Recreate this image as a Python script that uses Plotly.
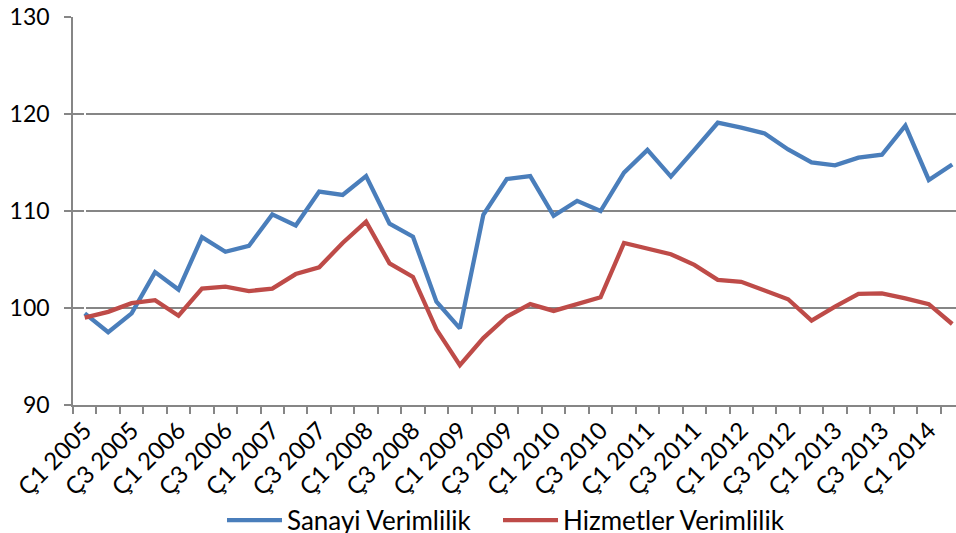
import plotly.graph_objects as go

quarters = []
for yr in range(2005, 2015):
    for q in range(1, 5):
        quarters.append(f"Ç{q} {yr}")
quarters = quarters[:38]  # Ç1 2005 .. Ç2 2014

sanayi = [99.45, 97.5, 99.45, 103.7, 101.9, 107.3, 105.8, 106.4, 109.65, 108.5,
          112.0, 111.65, 113.6, 108.7, 107.35, 100.65, 97.9, 109.6, 113.3, 113.6,
          109.5, 111.05, 110.0, 113.95, 116.3, 113.55, 116.3, 119.1, 118.6, 118.0,
          116.35, 115.0, 114.7, 115.5, 115.8, 118.8, 113.2, 114.8]

hizmetler = [99.0, 99.6, 100.5, 100.8, 99.2, 102.0, 102.2, 101.75, 102.0, 103.5,
             104.2, 106.7, 108.9, 104.6, 103.2, 97.8, 94.1, 96.9, 99.1, 100.4,
             99.7, 100.4, 101.1, 106.7, 106.1, 105.55, 104.45, 102.9, 102.7, 101.85,
             100.9, 98.7, 100.15, 101.45, 101.5, 101.0, 100.4, 98.35]

x = list(range(len(quarters)))
label_idx = [i for i in x if i % 2 == 0]

font_name = "Lato, Carlito, Calibri, sans-serif"

fig = go.Figure()
fig.add_trace(go.Scatter(x=x, y=sanayi, mode="lines", name="Sanayi Verimlilik",
                         line=dict(color="#4A7EBB", width=4.3), legend="legend"))
fig.add_trace(go.Scatter(x=x, y=hizmetler, mode="lines", name="Hizmetler Verimlilik",
                         line=dict(color="#BE4B48", width=4.3), legend="legend2"))

leg = dict(orientation="h", xref="container", xanchor="left",
           yref="container", y=0.024, yanchor="middle",
           bgcolor="rgba(0,0,0,0)", font=dict(size=26), itemwidth=55)

fig.update_layout(
    width=956, height=533,
    margin=dict(l=73, r=0, t=17, b=128),
    paper_bgcolor="white", plot_bgcolor="white",
    font=dict(family=font_name, size=22, color="black"),
    showlegend=True,
    legend=dict(leg, x=222 / 956),
    legend2=dict(leg, x=498 / 956),
)
fig.update_xaxes(
    range=[-0.5, 37.16], automargin=False,
    tickmode="array", tickvals=label_idx, ticktext=[quarters[i] for i in label_idx],
    tickangle=-45, ticks="", showgrid=False,
    showline=True, linecolor="#868686", linewidth=1.5,
    minor=dict(ticks="outside", tick0=0.5, dtick=1, ticklen=7,
               tickcolor="#868686", tickwidth=1.5, showgrid=False),
    tickfont=dict(size=24),
)
fig.update_yaxes(
    range=[90, 130], tickvals=[90, 100, 110, 120, 130], automargin=False,
    showgrid=True, gridcolor="#868686", gridwidth=1.5,
    showline=True, linecolor="#868686", linewidth=1.5,
    ticks="outside", ticklen=7, tickcolor="#868686", tickwidth=1.5,
    ticklabelstandoff=10,
    zeroline=False, tickfont=dict(size=23),
)

# page has a default 8px body margin; drop it so the figure sits at the window origin
fig.write_html("out.html", config={"displayModeBar": False},
               post_script="document.body.style.margin='0';")
